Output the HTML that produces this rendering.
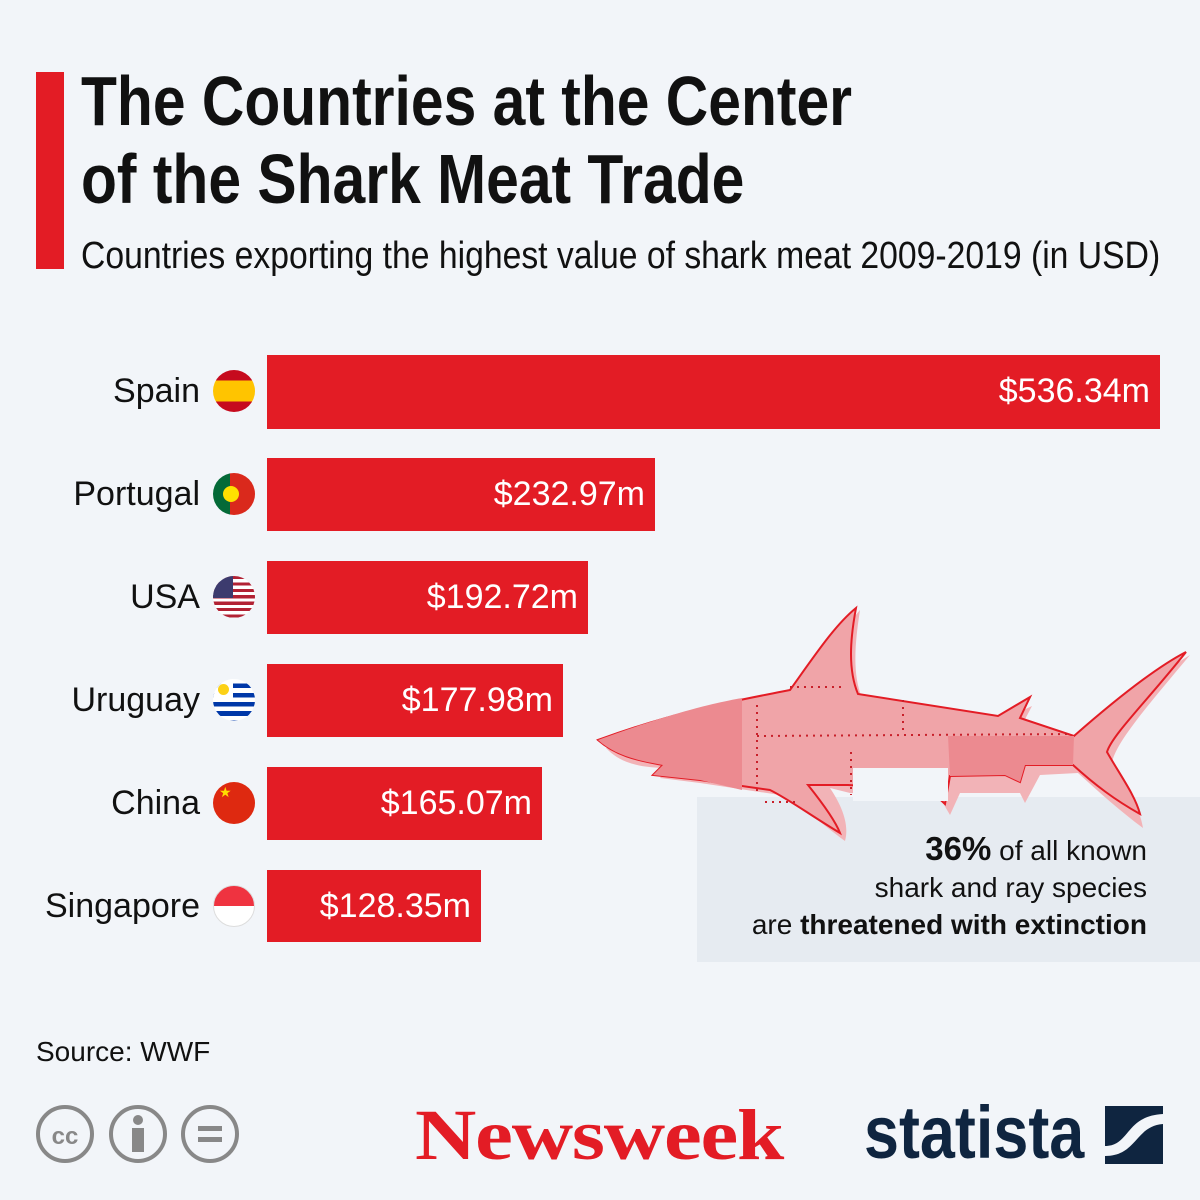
<!DOCTYPE html>
<html><head><meta charset="utf-8"><style>
body{margin:0;width:1200px;height:1200px;background:#f2f5f9;position:relative;overflow:hidden;font-family:"Liberation Sans",sans-serif;color:#111}
.a{position:absolute}
.bar{position:absolute;left:267px;background:#e31c25;color:#fff;font-size:34px;text-align:right;box-sizing:border-box;padding-right:10px;line-height:73px}
.lab{position:absolute;right:1000px;font-size:34px;line-height:73px}
.flag{position:absolute;left:213px;width:42px;height:42px;border-radius:50%;overflow:hidden}
</style></head><body>
<div class="a" style="left:36px;top:72px;width:28px;height:197px;background:#e31c25"></div>
<div class="a" style="left:81px;top:62px;font-size:70px;font-weight:bold;line-height:78px;white-space:nowrap;transform:scaleX(0.84);transform-origin:left top">The Countries at the Center<br>of the Shark Meat Trade</div>
<div class="a" style="left:81px;top:234px;font-size:38px;line-height:44px;white-space:nowrap;transform:scaleX(0.887);transform-origin:left top">Countries exporting the highest value of shark meat 2009-2019 (in USD)</div>

<div class="lab" style="top:355px">Spain</div>
<div class="lab" style="top:458px">Portugal</div>
<div class="lab" style="top:561px">USA</div>
<div class="lab" style="top:664px">Uruguay</div>
<div class="lab" style="top:767px">China</div>
<div class="lab" style="top:870px">Singapore</div>

<div class="flag" style="top:370px;background:linear-gradient(#c60b1e 25%,#ffc400 25%,#ffc400 75%,#c60b1e 75%)"></div>
<div class="flag" style="top:473px;background:linear-gradient(90deg,#046a38 40%,#da291c 40%)"><div class="a" style="left:10px;top:13px;width:16px;height:16px;border-radius:50%;background:#ffe000"></div></div>
<div class="flag" style="top:576px;background:repeating-linear-gradient(#b22234 0 3.2px,#fff 3.2px 6.4px)"><div class="a" style="left:0;top:0;width:20px;height:22px;background:#3c3b6e"></div></div>
<div class="flag" style="top:679px;background:repeating-linear-gradient(#fff 0 4.6px,#0038a8 4.6px 9.2px)"><div class="a" style="left:0;top:0;width:20px;height:22px;background:#fff"></div><div class="a" style="left:5px;top:5px;width:11px;height:11px;border-radius:50%;background:#fcd116"></div></div>
<div class="flag" style="top:782px;background:#de2910;color:#ffde00;font-size:14px;line-height:20px;padding-left:6px;box-sizing:border-box">★</div>
<div class="flag" style="top:885px;background:linear-gradient(#ef3340 50%,#fff 50%);border:1px solid #ddd;box-sizing:border-box"></div>

<div class="bar" style="top:355px;width:893px;height:74px">$536.34m</div>
<div class="bar" style="top:458px;width:388px;height:73px">$232.97m</div>
<div class="bar" style="top:561px;width:321px;height:73px">$192.72m</div>
<div class="bar" style="top:664px;width:296px;height:73px">$177.98m</div>
<div class="bar" style="top:767px;width:275px;height:73px">$165.07m</div>
<div class="bar" style="top:870px;width:214px;height:72px">$128.35m</div>

<div class="a" style="left:697px;top:797px;width:503px;height:165px;background:#e6ebf1"></div>
<svg class="a" style="left:0;top:0" width="1200" height="1200">
<path d="M606,748 C680,718 740,708 795,703 C820,668 840,633 860,610 C855,643 852,673 862,698 L1000,721 L1032,706 L1022,725 L1080,741 C1120,708 1160,673 1190,655 C1150,703 1115,743 1112,763 C1125,783 1140,808 1143,828 C1120,811 1100,793 1078,773 L1040,775 L1025,803 L1020,793 L960,793 L950,815 L940,798 L850,793 L830,788 C840,803 850,823 845,841 C820,823 800,803 780,795 L700,783 L660,778 L668,768 C640,768 620,763 606,748Z" fill="#f2b3b7"/>
<path d="M598,740 C680,710 740,700 790,690 C815,655 835,625 856,608 C850,640 848,670 858,694 L998,716 L1030,697 L1020,718 L1074,736 C1115,700 1155,668 1186,652 C1148,700 1112,735 1107,752 C1120,775 1135,795 1140,814 C1115,800 1095,785 1073,765 L1025,765 L1020,782 L1005,775 L950,776 L945,804 L930,790 L848,785 L808,785 C820,800 835,820 840,833 C810,815 790,800 770,790 L700,780 L653,775 L663,765 C635,760 615,755 598,740Z" fill="#f0a4a8" stroke="#e31c25" stroke-width="2"/>
<path d="M598,740 C680,710 720,702 742,698 L742,790 L700,780 L653,775 L663,765 C635,760 615,755 598,740Z" fill="#ec8a90"/>
<path d="M948,736 L1074,736 L1073,765 L1025,765 L1020,782 L1005,775 L950,776Z" fill="#ec8a90"/>
<rect x="853" y="768" width="95" height="33" fill="#f2f5f9"/>
<g stroke="#c8202a" stroke-width="2" stroke-dasharray="2 5" fill="none">
<path d="M757,736 L1070,734"/><path d="M757,705 V795"/><path d="M790,687 H845"/><path d="M903,700 V735"/><path d="M851,752 V795"/><path d="M765,802 H800"/>
</g>
</svg>
<div class="a" style="right:53px;top:830px;text-align:right;font-size:28px;line-height:37px;white-space:nowrap">
<b style="font-size:33px">36%</b> of all known<br>shark and ray species<br>are <b>threatened with extinction</b></div>

<div class="a" style="left:36px;top:1036px;font-size:28px">Source: WWF</div>
<svg class="a" style="left:30px;top:1100px" width="220" height="70">
<g fill="none" stroke="#888" stroke-width="4"><circle cx="35" cy="34" r="27"/><circle cx="108" cy="34" r="27"/><circle cx="180" cy="34" r="27"/></g>
<text x="35" y="44" font-family="Liberation Sans" font-weight="bold" font-size="24" fill="#888" text-anchor="middle">cc</text>
<circle cx="108" cy="20" r="5" fill="#888"/><rect x="102" y="28" width="12" height="24" fill="#888"/>
<rect x="168" y="26" width="24" height="5" fill="#888"/><rect x="168" y="37" width="24" height="5" fill="#888"/>
</svg>
<div class="a" style="left:415px;top:1094px;font-family:'Liberation Serif',serif;font-weight:bold;font-size:72px;color:#e31c25;letter-spacing:-1px;white-space:nowrap;transform:scaleX(1.18);transform-origin:left">Newsweek</div>
<div class="a" style="left:864px;top:1090px;font-size:74px;font-weight:bold;color:#0f2540;white-space:nowrap;transform:scaleX(0.85);transform-origin:left">statista</div>
<div class="a" style="left:1105px;top:1106px;width:58px;height:58px;background:#0f2540"></div>
<svg class="a" style="left:1105px;top:1106px" width="58" height="58"><path d="M0,40 C25,40 20,10 58,8 L58,18 C30,20 32,50 0,50Z" fill="#f2f5f9"/></svg>
</body></html>
